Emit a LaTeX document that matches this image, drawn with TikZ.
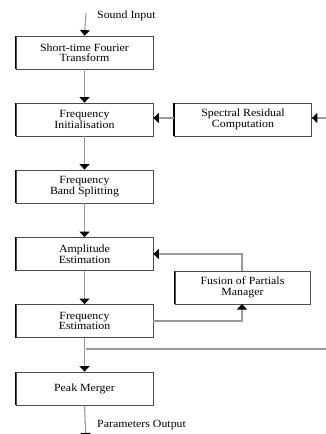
\documentclass[tikz,border=0pt]{standalone}
\usepackage{fontspec}
\setmainfont{Liberation Serif}[FakeStretch=1.08]
\usetikzlibrary{arrows.meta}
\begin{document}
\begin{tikzpicture}[x=1pt,y=-1pt,
  blk/.style={draw=black!70,line width=0.8pt,minimum width=137pt,minimum height=33pt,inner sep=0pt,align=center,font=\fontsize{11}{10.5}\selectfont},
  conn/.style={draw=black!40,line width=1.1pt},
  arr/.style={conn,-{Triangle[width=10pt,length=5.5pt,color=black]}},
  lbl/.style={font=\fontsize{11}{11}\selectfont,anchor=west,inner sep=0pt}]
\useasboundingbox (0,0) rectangle (326,434);
\node[blk] (stft) at (84.5,52.5) {Short-time Fourier\\Transform};
\node[blk] (fi)   at (84.5,119.5) {Frequency\\Initialisation};
\node[blk] (fbs)  at (84.5,186.5) {Frequency\\Band Splitting};
\node[blk] (ae)   at (84.5,254) {Amplitude\\Estimation};
\node[blk] (fe)   at (84.5,321) {Frequency\\Estimation};
\node[blk] (pm)   at (84.5,388.5) {Peak Merger};
\node[blk] (src)  at (243,119.5) {Spectral Residual\\Computation};
\node[blk,minimum width=135pt] (fpm) at (242.5,287.5) {Fusion of Partials\\Manager};
% thick left edges
\foreach \n in {stft,fi,fbs,ae,fe,pm,src,fpm}{
  \draw[black,line width=1.3pt] (\n.south west) -- (\n.north west);}
\coordinate (in) at (86,13);
\coordinate (out) at (86,438.5);
\coordinate (rin) at (330,118);
\coordinate (rout) at (330,349);
\coordinate (split) at (86,349);
\coordinate (fpmtop) at (242,271);
\coordinate (fpmbot) at (242,304);
\draw[arr] (in) -- (stft.north);
\draw[arr] (stft.south) -- (fi.north);
\draw[arr] (fi.south) -- (fbs.north);
\draw[arr] (fbs.south) -- (ae.north);
\draw[arr] (ae.south) -- (fe.north);
\draw[arr] (fe.south) -- (pm.north);
\draw[arr] (pm.south) -- (out);
\draw[arr] (rin) -- (src.east |- rin);
\draw[arr] (src.west |- rin) -- (fi.east |- rin);
\draw[conn] (split) -- (rout);
\draw[arr] (fe.east) -| (fpmbot);
\draw[arr] (fpmtop) |- (ae.east);
\node[lbl] (si) at (97,16) {Sound Input};
\node[lbl] (po) at (97,425) {Parameters Output};
\end{tikzpicture}
\end{document}
